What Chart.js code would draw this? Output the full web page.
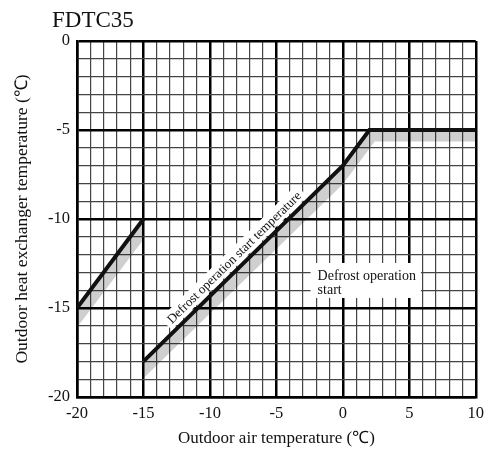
<!DOCTYPE html>
<html>
<head>
<meta charset="utf-8">
<script src="https://cdn.jsdelivr.net/npm/chart.js@4.4.0/dist/chart.umd.min.js"></script>
<style>
body { margin: 0; background: #fff; }
</style>
</head>
<body>
<canvas id="myChart" width="491" height="451"></canvas>
<script>
// values
let chartTitle = 'FDTC35';
let xTitle = 'Outdoor air temperature (\u2103)';
let yTitle = 'Outdoor heat exchanger temperature (\u2103)';

let lineA_x = [-20, -15];
let lineA_y = [-15, -10];
let lineB_x = [-15, 0, 2, 10];
let lineB_y = [-18, -7, -5, -5];

// lower edge of the grey shadow band under each line
let shadowA_x = [-20, -15];
let shadowA_y = [-16.1, -11.15];
let shadowB_x = [-15, 0, 2.4, 10];
let shadowB_y = [-18.95, -8.05, -5.65, -5.65];

let xTicks = [-20, -15, -10, -5, 0, 5, 10];
let yTicks = [-20, -15, -10, -5, 0];

let slopeLabel = 'Defrost operation start temperature';
let slopeLabelAt = [-8.2, -12.15];
let boxLabel = ['Defrost operation', 'start'];
let boxLabelAt = [-1.9, -13.2];

function pts(xs, ys) {
    return xs.map(function(x, i) { return {x: x, y: ys[i]}; });
}

const serif = '"Liberation Serif", "Times New Roman", serif';

const annotate = {
    id: 'annotate',
    afterDatasetsDraw(chart) {
        const ctx = chart.ctx;
        const xs = chart.scales.x, ys = chart.scales.y;
        ctx.save();

        // rotated label along the long line
        ctx.font = '13px ' + serif;
        let p0x = xs.getPixelForValue(lineB_x[0]), p0y = ys.getPixelForValue(lineB_y[0]);
        let p1x = xs.getPixelForValue(lineB_x[1]), p1y = ys.getPixelForValue(lineB_y[1]);
        let ang = Math.atan2(p1y - p0y, p1x - p0x);
        let cx = xs.getPixelForValue(slopeLabelAt[0]), cy = ys.getPixelForValue(slopeLabelAt[1]);
        let w = ctx.measureText(slopeLabel).width;
        ctx.translate(cx, cy);
        ctx.rotate(ang);
        ctx.fillStyle = '#fff';
        ctx.fillRect(-w / 2 - 4, -8, w + 8, 16);
        ctx.fillStyle = '#111';
        ctx.textAlign = 'center';
        ctx.textBaseline = 'middle';
        ctx.fillText(slopeLabel, 0, 1);
        ctx.setTransform(1, 0, 0, 1, 0, 0);

        // boxed label
        ctx.font = '14px ' + serif;
        let bx = xs.getPixelForValue(boxLabelAt[0]), by = ys.getPixelForValue(boxLabelAt[1]);
        let bw = Math.max.apply(null, boxLabel.map(function(t) { return ctx.measureText(t).width; }));
        ctx.fillStyle = '#fff';
        ctx.fillRect(bx - 7, by - 13, bw + 12, 35);
        ctx.fillStyle = '#111';
        ctx.textAlign = 'left';
        ctx.textBaseline = 'middle';
        boxLabel.forEach(function(t, i) { ctx.fillText(t, bx, by + i * 14); });

        // chart title
        ctx.font = '23px ' + serif;
        ctx.textBaseline = 'alphabetic';
        ctx.fillText(chartTitle, 52, 27);
        ctx.restore();
    }
};

let myChart1 = document.getElementById('myChart').getContext('2d');

let chart1 = new Chart(myChart1, {
    type: 'line',
    data: {
        datasets: [
            {
                data: pts(lineA_x, lineA_y),
                borderColor: '#111',
                borderWidth: 4,
                pointRadius: 0,
                fill: false
            },
            {
                data: pts(lineB_x, lineB_y),
                borderColor: '#111',
                borderWidth: 4,
                pointRadius: 0,
                fill: false
            },
            {
                data: pts(shadowA_x, shadowA_y),
                borderWidth: 0,
                pointRadius: 0,
                backgroundColor: 'rgba(0,0,0,0.19)',
                fill: 0
            },
            {
                data: pts(shadowB_x, shadowB_y),
                borderWidth: 0,
                pointRadius: 0,
                backgroundColor: 'rgba(0,0,0,0.19)',
                fill: 1
            }
        ]
    },
    options: {
        responsive: false,
        animation: false,
        layout: {
            padding: {left: 8, right: 13, top: 41, bottom: 0}
        },
        plugins: {
            legend: { display: false },
            tooltip: { enabled: false }
        },
        scales: {
            x: {
                type: 'linear',
                min: -20,
                max: 10,
                afterFit: function(s) { s.height = 54; },
                border: { color: '#000', width: 2.5 },
                grid: {
                    drawTicks: false,
                    color: function(c) { return c.tick && c.tick.value % 5 === 0 ? '#000' : '#444'; },
                    lineWidth: function(c) { return c.tick && c.tick.value % 5 === 0 ? 2.5 : 1.2; }
                },
                ticks: {
                    stepSize: 1,
                    autoSkip: false,
                    maxRotation: 0,
                    padding: 7,
                    color: '#111',
                    font: { family: serif, size: 16.5 },
                    callback: function(v) { return xTicks.includes(v) ? String(v) : ''; }
                },
                title: {
                    display: true,
                    text: xTitle,
                    color: '#111',
                    font: { family: serif, size: 17 },
                    padding: { top: 0, bottom: 2 }
                }
            },
            y: {
                type: 'linear',
                min: -20,
                max: 0,
                afterFit: function(s) { s.width = 69; },
                border: { color: '#000', width: 2.5 },
                grid: {
                    drawTicks: false,
                    color: function(c) { return c.tick && c.tick.value % 5 === 0 ? '#000' : '#444'; },
                    lineWidth: function(c) { return c.tick && c.tick.value % 5 === 0 ? 2.5 : 1.2; }
                },
                ticks: {
                    stepSize: 1,
                    autoSkip: false,
                    padding: 7,
                    color: '#111',
                    font: { family: serif, size: 16.5 },
                    callback: function(v) { return yTicks.includes(v) ? String(v) : ''; }
                },
                title: {
                    display: true,
                    text: yTitle,
                    color: '#111',
                    font: { family: serif, size: 17.5 },
                    padding: { top: 4, bottom: 0 }
                }
            }
        }
    },
    plugins: [annotate]
});
</script>
</body>
</html>
